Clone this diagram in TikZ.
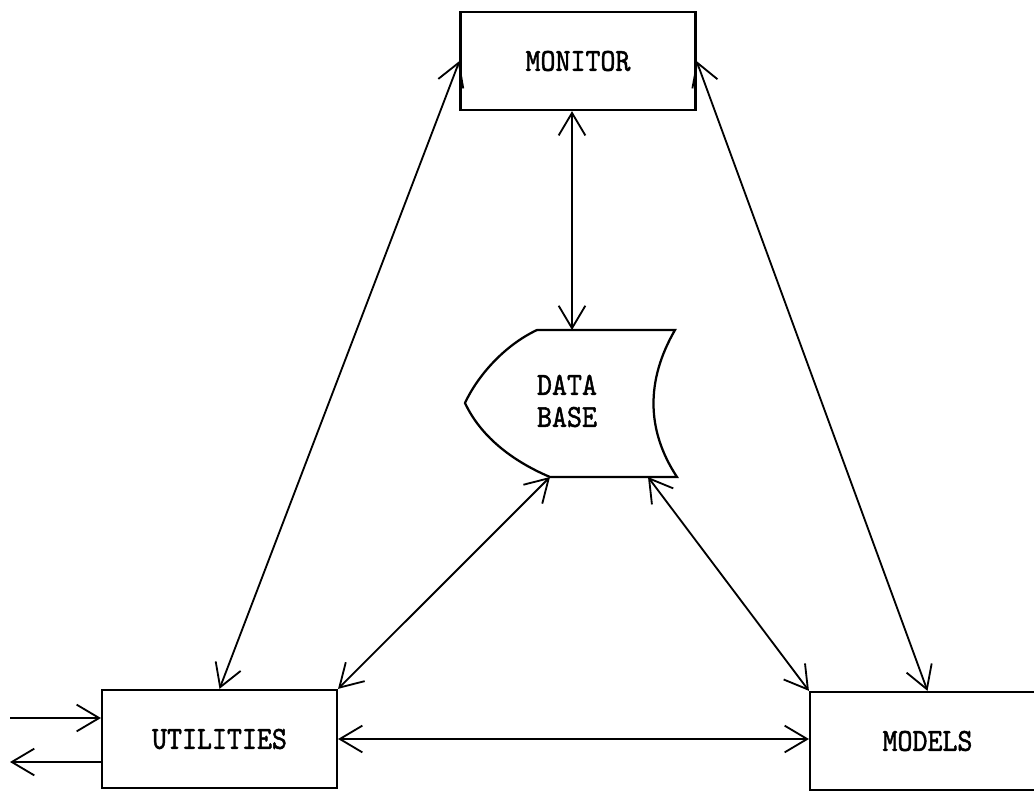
\documentclass[tikz,border=0pt]{standalone}
\usepackage{fontspec}
\newfontfamily\typefont{lmmono10-regular.otf}[FakeBold=1.6]
\usepackage{graphicx}
\usetikzlibrary{arrows.meta, calc}

% typewriter letters are taller than they are wide
\newcommand{\tallfont}[1]{\scalebox{1}[1.12]{#1}}

\begin{document}
\begin{tikzpicture}[x=0.025cm, y=-0.025cm, line width=1.3pt,
    >={Straight Barb[length=16pt, width=19pt]}, % Arrow tip style
    block/.style={draw, rectangle, line width=1.6pt, minimum width=5.87cm, minimum height=2.45cm, inner sep=0pt, font=\typefont\fontsize{20.3}{22.8}\selectfont}]
    \useasboundingbox (0,0) rectangle (1034,791);
    \clip (0,0) rectangle (1034,791);

    % Define the three boxes
    \node[block] (mon) at (578,61) {\tallfont{MONITOR}};
    \node[block] (util) at (219.5,739) {\tallfont{UTILITIES}};
    \node[block] (mod) at (927.5,741) {\tallfont{MODELS}};

    % Data base shape in the middle
    \draw[line width=1.6pt] (537,330) -- (675,330)
        .. controls (646,380) and (646,430) .. (677,477) -- (550,477)
        .. controls (510,460) and (480,435) .. (465,403)
        .. controls (478,375) and (505,345) .. (537,330) -- cycle;
    \node[font=\typefont\fontsize{20.3}{22.8}\selectfont, align=center] (db) at (567,401) {\tallfont{DATA}\\\tallfont{BASE}};
    \coordinate (dbT) at (572,330);
    \coordinate (dbBL) at (550,477);
    \coordinate (dbBR) at (648,477);

    % Draw the two-way connections
    \draw[<->] (mon.west) -- (util.north);
    \draw[<->] (mon.east) -- (mod.north);
    \draw[<->] (mon.south -| dbT) -- (dbT);
    \draw[<->] (dbBL) -- (util.north east);
    \draw[<->] (dbBR) -- (mod.north west);
    \draw[<->] (util.east) -- (util.east -| mod.west);

    % Input and output of the utilities
    \coordinate (inA) at (10,718);
    \coordinate (outA) at (10,762);
    \draw[->] (inA) -- (inA -| util.west);
    \draw[->] (util.west |- outA) -- (outA);
\end{tikzpicture}
\end{document}
